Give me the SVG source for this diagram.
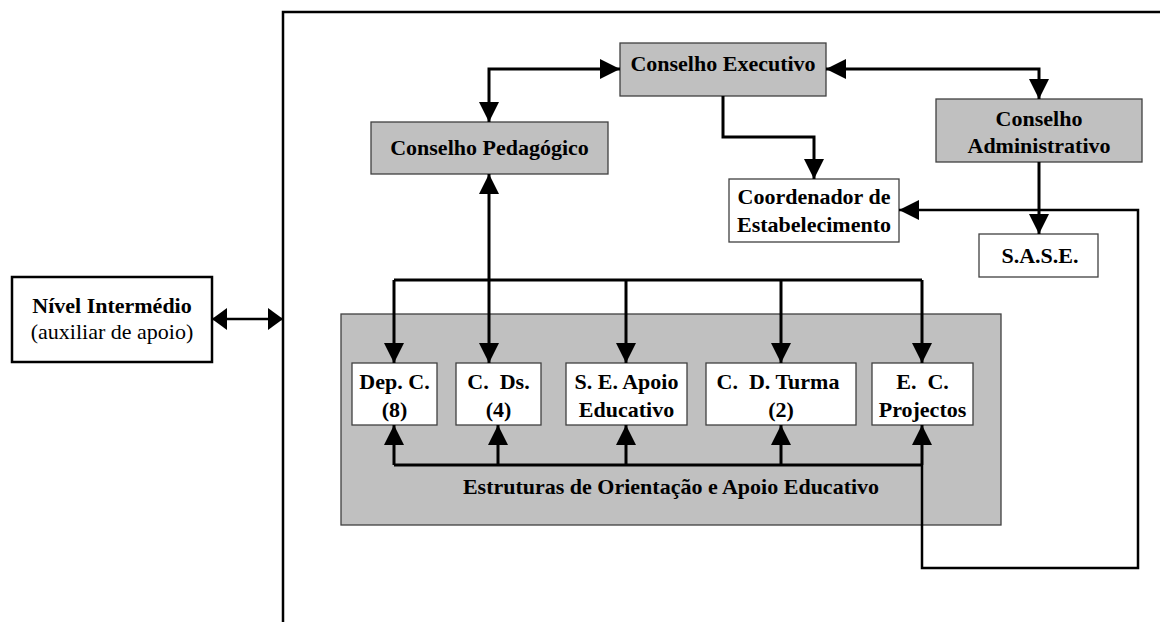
<svg xmlns="http://www.w3.org/2000/svg" width="1160" height="622" viewBox="0 0 1160 622">
<style>
  .t { font-family: "Liberation Serif", "Times New Roman", serif; font-size: 22px; font-weight: bold; fill: #000; text-anchor: middle; }
  .r { font-weight: normal; }
  .grey { fill: #c0c0c0; stroke: #404040; stroke-width: 1.3; }
  .white { fill: #ffffff; stroke: #404040; stroke-width: 1.3; }
  .wbox { fill: #ffffff; stroke: #000; stroke-width: 2.5; }
  .c { fill: none; stroke: #000; stroke-width: 3; stroke-linejoin: miter; }
  .c2 { fill: none; stroke: #000; stroke-width: 2.5; }
  .a { marker-end: url(#ah); }
  .b { marker-start: url(#ah); marker-end: url(#ah); }
</style>
<defs>
  <marker id="ah" markerUnits="userSpaceOnUse" markerWidth="20" markerHeight="20" refX="20" refY="10" orient="auto-start-reverse" viewBox="0 0 20 20">
    <path d="M0,0 L20,10 L0,20 z" fill="#000"/>
  </marker>
  <marker id="sh" markerUnits="userSpaceOnUse" markerWidth="15" markerHeight="22" refX="15" refY="11" orient="auto-start-reverse" viewBox="0 0 15 22">
    <path d="M0,0 L15,11 L0,22 z" fill="#000"/>
  </marker>
</defs>

<rect width="1160" height="622" fill="#ffffff"/>

<g id="frame">
  <path d="M283,622 L283,12 L1160,12" fill="none" stroke="#000" stroke-width="2.5"/>
</g>

<g id="estruturas">
  <rect class="grey" x="341" y="314" width="660" height="211"/>
  <text class="t" x="671" y="494">Estruturas de Orientação e Apoio Educativo</text>
</g>

<g id="conselho-executivo">
  <rect class="grey" x="620" y="43" width="206" height="53"/>
  <text class="t" x="723" y="71">Conselho Executivo</text>
</g>

<g id="conselho-pedagogico">
  <rect class="grey" x="371" y="122" width="237" height="52"/>
  <text class="t" x="489.5" y="155">Conselho Pedagógico</text>
</g>

<g id="conselho-administrativo">
  <rect class="grey" x="936" y="99" width="206" height="63"/>
  <text class="t" x="1039" y="126">Conselho</text>
  <text class="t" x="1039" y="153">Administrativo</text>
</g>

<g id="coordenador">
  <rect class="white" x="729" y="179" width="170" height="63"/>
  <text class="t" x="814" y="204">Coordenador de</text>
  <text class="t" x="814" y="232">Estabelecimento</text>
</g>

<g id="sase">
  <rect class="white" x="979" y="234" width="119" height="43"/>
  <text class="t" x="1040" y="263">S.A.S.E.</text>
</g>

<g id="nivel-intermedio">
  <rect class="wbox" x="12" y="277" width="200" height="85"/>
  <text class="t" x="112" y="313">Nível Intermédio</text>
  <text class="t r" x="112" y="339">(auxiliar de apoio)</text>
</g>

<g id="dep-c">
  <rect class="white" x="352" y="363" width="85" height="62"/>
  <text class="t" x="394.5" y="389">Dep. C.</text>
  <text class="t" x="394.5" y="417">(8)</text>
</g>

<g id="c-ds">
  <rect class="white" x="456" y="363" width="85" height="62"/>
  <text class="t" x="498.5" y="389" xml:space="preserve">C.  Ds.</text>
  <text class="t" x="498.5" y="417">(4)</text>
</g>

<g id="se-apoio">
  <rect class="white" x="566" y="363" width="121" height="62"/>
  <text class="t" x="626.5" y="389">S. E. Apoio</text>
  <text class="t" x="626.5" y="417">Educativo</text>
</g>

<g id="cd-turma">
  <rect class="white" x="706" y="363" width="150" height="62"/>
  <text class="t" x="778" y="389" xml:space="preserve">C.  D. Turma</text>
  <text class="t" x="781" y="417">(2)</text>
</g>

<g id="ec-projectos">
  <rect class="white" x="872" y="363" width="101" height="62"/>
  <text class="t" x="922.5" y="389" xml:space="preserve">E.  C.</text>
  <text class="t" x="922.5" y="417">Projectos</text>
</g>

<g id="connectors">
  <path class="c b" d="M489,122 L489,69 L620,69"/>
  <path class="c b" d="M826,69 L1039,69 L1039,99"/>
  <path class="c a" d="M723,96 L723,137 L814,137 L814,179"/>
  <path class="c a" d="M1039,162 L1039,234"/>
  <path class="c a" d="M489,280 L489,174"/>
  <path class="c" d="M394,280 L922,280"/>
  <path class="c a" d="M394,280 L394,363"/>
  <path class="c a" d="M489,280 L489,363"/>
  <path class="c a" d="M626,280 L626,363"/>
  <path class="c a" d="M781,280 L781,363"/>
  <path class="c a" d="M922,280 L922,363"/>
  <path class="c" d="M394,465 L922,465"/>
  <path class="c a" d="M394,465 L394,425"/>
  <path class="c a" d="M498,465 L498,425"/>
  <path class="c a" d="M626,465 L626,425"/>
  <path class="c a" d="M781,465 L781,425"/>
  <path class="c a" d="M922,465 L922,425"/>
  <path class="c2 a" d="M922,465 L922,568 L1138,568 L1138,210 L899,210"/>
  <path class="c2" d="M212,319 L283,319" marker-start="url(#sh)" marker-end="url(#sh)"/>
</g>
</svg>
